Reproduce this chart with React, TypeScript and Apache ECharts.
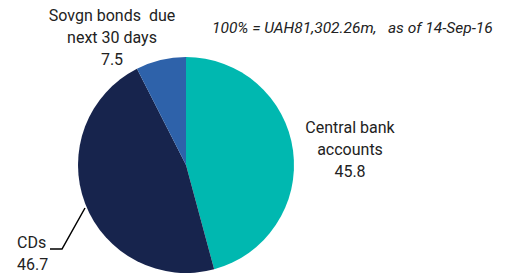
import React, { useEffect, useRef } from "react";
import * as echarts from "echarts";

const categories = ["Central bank\naccounts", "CDs", "Sovgn bonds  due\nnext 30 days"];
const values = [45.8, 46.7, 7.5];
const colors = ["#00B8B0", "#17244D", "#2E62AA"];
const titleText = "100% = UAH81,302.26m,   as of 14-Sep-16";

const FONT = "Roboto, 'Liberation Sans', Arial, sans-serif";

export default function App() {
  const ref = useRef<HTMLDivElement>(null);
  useEffect(() => {
    if (!ref.current) return;
    const chart = echarts.init(ref.current, undefined, { renderer: "svg" });
    const data = categories.map((name, i) => ({
      name,
      value: values[i],
      itemStyle: { color: colors[i] },
      labelLine: { show: i === 1 },
    }));
    chart.setOption({
      animation: false,
      title: {
        text: titleText,
        left: 207,
        top: 15,
        textStyle: {
          fontFamily: FONT,
          fontStyle: "italic",
          fontWeight: "normal",
          fontSize: 15.5,
          color: "#222",
        },
      },
      series: [
        {
          type: "pie",
          center: [186, 165],
          radius: [0, 108],
          startAngle: 90,
          clockwise: true,
          data,
          label: {
            show: true,
            formatter: (p: any) => `${p.name}\n${p.value}`,
            fontFamily: FONT,
            fontSize: 16,
            lineHeight: 22,
            color: "#222",
            overflow: "none",
          },
          labelLine: {
            show: true,
            lineStyle: { color: "#000", width: 1.5 },
          },
          labelLayout: (params: any) => {
            const i = params.dataIndex;
            if (i === 0) {
              return { x: 350, y: 149, align: "center", verticalAlign: "middle" };
            }
            if (i === 1) {
              return {
                x: 17,
                y: 253,
                align: "left",
                verticalAlign: "middle",
                labelLinePoints: [
                  [85, 208],
                  [62, 249],
                  [50, 249],
                ],
              };
            }
            return { x: 112, y: 37, align: "center", verticalAlign: "middle" };
          },
        },
      ],
    });
    return () => chart.dispose();
  }, []);
  return (
    <div
      ref={ref}
      style={{ position: "absolute", left: 0, top: 0, width: 508, height: 275 }}
    />
  );
}
